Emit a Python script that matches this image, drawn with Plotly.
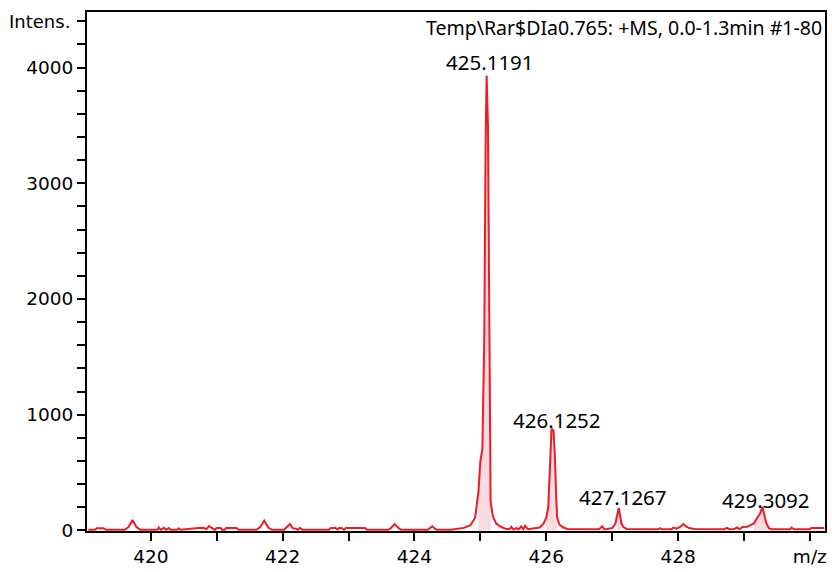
import plotly.graph_objects as go
import numpy as np

# Spectrum (m/z, intensity)
mz = [419.05, 419.15, 419.18, 419.28, 419.32, 419.60, 419.66, 419.72, 419.78, 419.84,
      420.10, 420.12, 420.15, 420.20, 420.23, 420.27, 420.30, 420.40, 420.42, 420.45,
      420.72, 420.80, 420.84, 420.88, 420.93, 420.97, 421.00, 421.06, 421.08, 421.12,
      421.14, 421.30, 421.33, 421.60, 421.66, 421.72, 421.78, 421.84, 422.02, 422.07,
      422.11, 422.15, 422.20, 422.23, 422.26, 422.30, 422.70, 422.72, 422.80, 422.83,
      422.86, 422.90, 422.93, 422.96, 423.25, 423.28, 423.60, 423.64, 423.70, 423.76,
      423.80, 424.20, 424.23, 424.27, 424.32, 424.36, 424.55, 424.65, 424.75, 424.85,
      424.92, 424.97, 425.00, 425.03, 425.06, 425.08, 425.095, 425.115, 425.135, 425.15,
      425.155, 425.19, 425.24, 425.30, 425.38, 425.44, 425.47, 425.50, 425.55, 425.58,
      425.62, 425.65, 425.68, 425.72, 425.80, 425.90, 425.96, 426.00, 426.03, 426.06,
      426.08, 426.11, 426.13, 426.15, 426.165, 426.20, 426.26, 426.32, 426.60, 426.80,
      426.85, 426.88, 426.92, 427.00, 427.05, 427.08, 427.10, 427.12, 427.14, 427.17,
      427.22, 427.50, 427.70, 427.73, 427.76, 427.90, 427.93, 427.98, 428.03, 428.08,
      428.12, 428.17, 428.25, 428.70, 428.74, 428.78, 428.85, 428.90, 428.93, 428.98,
      429.05, 429.10, 429.15, 429.20, 429.25, 429.28, 429.31, 429.34, 429.38, 429.42,
      429.70, 429.72, 429.76, 430.00, 430.02, 430.22]
intensity = [5, 5, 18, 18, 5, 5, 30, 90, 30, 5,
             5, 25, 5, 22, 5, 20, 5, 5, 18, 5,
             20, 22, 10, 38, 20, 5, 20, 20, 5, 5,
             20, 20, 5, 5, 30, 85, 25, 5, 5, 30,
             55, 20, 15, 5, 22, 5, 5, 20, 22, 8,
             22, 20, 5, 20, 20, 5, 5, 20, 55, 20,
             5, 5, 15, 35, 10, 5, 5, 15, 22, 45,
             110, 330, 600, 700, 1700, 3400, 3930, 3500, 1900, 1200,
             250, 120, 60, 35, 15, 10, 30, 8, 20, 8,
             35, 10, 40, 10, 15, 25, 60, 110, 200, 620,
             880, 860, 650, 300, 110, 50, 25, 12, 10, 10,
             35, 10, 12, 20, 60, 150, 195, 130, 60, 30,
             12, 10, 10, 20, 10, 10, 25, 15, 30, 55,
             35, 20, 12, 10, 22, 10, 12, 25, 10, 30,
             32, 45, 60, 110, 150, 205, 120, 60, 20, 10,
             10, 25, 10, 10, 20, 20]

# Shaded peak regions (m/z start, end)
peak_regions = [(424.96, 425.16), (425.98, 426.17), (427.06, 427.14), (429.15, 429.40)]

# Peak labels
label_mz = [425.1191, 426.1252, 427.1267, 429.3092]
label_int = [3930, 880, 195, 205]
label_text = ["425.1191", "426.1252", "427.1267", "429.3092"]

x_tickvals = [420, 422, 424, 426, 428, 430]
x_ticktext = ["420", "422", "424", "426", "428", "m/z"]
y_tickvals = [0, 1000, 2000, 3000, 4000]

title_text = "Temp\\Rar$DIa0.765: +MS, 0.0-1.3min #1-80"

RED = "rgb(237,28,36)"
FILL = "rgba(250,212,218,0.85)"
label_yshift = [-2, -7, -5, -9]
label_xshift = [2, 2, 2, 2]

mz_arr = np.array(mz)
int_arr = np.array(intensity)

fig = go.Figure()
for a, b in peak_regions:
    m = (mz_arr >= a) & (mz_arr <= b)
    fig.add_trace(go.Scatter(x=mz_arr[m], y=int_arr[m], mode="lines",
                             line=dict(width=0), fill="tozeroy",
                             fillcolor=FILL, hoverinfo="skip", showlegend=False))
fig.add_trace(go.Scatter(x=mz, y=intensity, mode="lines",
                         line=dict(color=RED, width=2), showlegend=False))

for xm, yi, t, ys, xs in zip(label_mz, label_int, label_text, label_yshift, label_xshift):
    fig.add_annotation(x=xm, y=yi, text=t, showarrow=False, xanchor="center",
                       yanchor="bottom", xshift=xs, yshift=ys,
                       font=dict(family="Noto Sans", size=20.5, color="black"))

fig.add_annotation(xref="paper", yref="paper", x=0.998, y=0.971, text=title_text,
                   showarrow=False, xanchor="right", yanchor="middle",
                   font=dict(family="Noto Sans", size=19.5, color="black"))
fig.add_annotation(xref="paper", yref="y", x=-0.02, y=4400, text="Intens.",
                   showarrow=False, xanchor="right", yanchor="middle",
                   font=dict(family="DejaVu Sans", size=18, color="black"))

axis_common = dict(showgrid=False, zeroline=False, showline=True, linecolor="black",
                   linewidth=2, mirror=True, ticks="outside", ticklen=8, tickwidth=1.5,
                   tickcolor="black",
                   tickfont=dict(family="DejaVu Sans", size=18.5, color="black"))

fig.update_xaxes(range=[419.03, 430.23], tickvals=x_tickvals, ticktext=x_ticktext,
                 minor=dict(dtick=1, tick0=419, ticks="outside", ticklen=8,
                            tickwidth=1.5, tickcolor="black"),
                 **axis_common)
fig.update_yaxes(range=[-5, 4480], tickvals=y_tickvals,
                 minor=dict(dtick=200, tick0=0, ticks="outside", ticklen=8,
                            tickwidth=1.5, tickcolor="black"),
                 **axis_common)

fig.update_layout(width=832, height=572, margin=dict(l=87, r=5, t=12, b=40),
                  plot_bgcolor="white", paper_bgcolor="white")

fig.write_html("out.html")
